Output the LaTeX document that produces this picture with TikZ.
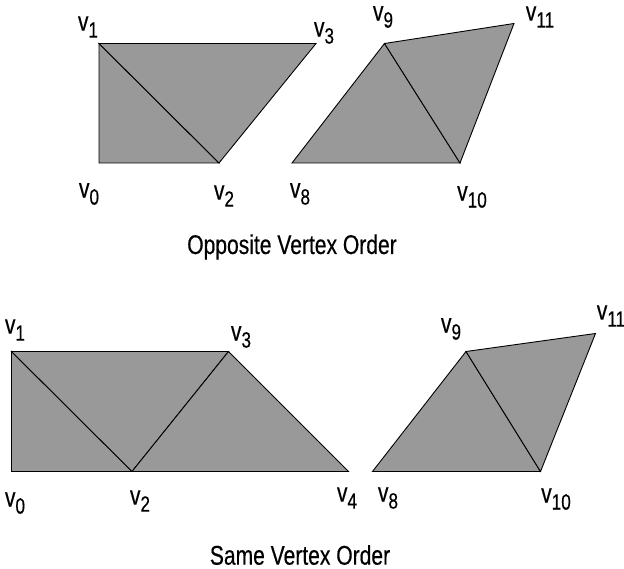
\documentclass[tikz,border=0pt]{standalone}
\usepackage{fontspec}
\setmainfont{Liberation Sans}[FakeStretch=0.78, FakeBold=0.4]
\usepackage{tikz}

\newcommand\vlab[1]{v\raisebox{-0.26em}{\fontsize{22}{22}\selectfont #1}}

\begin{document}
\begin{tikzpicture}[x=1pt,y=-1pt,
    face/.style={fill=black!40, draw=black, line width=0.9pt, line join=miter},
    vname/.style={font=\fontsize{27}{27}\selectfont, inner sep=0pt},
    caption/.style={font=\fontsize{27}{27}\selectfont, inner sep=0pt}]
    \useasboundingbox (0,0) rectangle (624,569);

    % opposite vertex order
    \coordinate (a0) at (99,163);
    \coordinate (a1) at (99,43.5);
    \coordinate (a2) at (219,163);
    \coordinate (a3) at (316,43.5);
    \coordinate (a8) at (292,163);
    \coordinate (a9) at (384.5,43.5);
    \coordinate (a10) at (460,163);
    \coordinate (a11) at (514,23.5);

    \filldraw[face] (a0) -- (a1) -- (a2) -- cycle;
    \filldraw[face] (a1) -- (a3) -- (a2) -- cycle;
    \filldraw[face] (a8) -- (a9) -- (a10) -- cycle;
    \filldraw[face] (a9) -- (a11) -- (a10) -- cycle;

    \node[vname] (la1) at (88,27) {\vlab{1}};
    \node[vname] (la3) at (324,33) {\vlab{3}};
    \node[vname] (la0) at (89,194) {\vlab{0}};
    \node[vname] (la2) at (224,196) {\vlab{2}};
    \node[vname] (la8) at (300,194) {\vlab{8}};
    \node[vname] (la9) at (383,17) {\vlab{9}};
    \node[vname] (la11) at (540,17) {\vlab{11}};
    \node[vname] (la10) at (472,197) {\vlab{10}};

    \node[caption] (top) at (292,247) {Opposite Vertex Order};

    % same vertex order
    \coordinate (b0) at (11.5,471.5);
    \coordinate (b1) at (11.5,351.5);
    \coordinate (b2) at (132,471.5);
    \coordinate (b3) at (228.5,351.5);
    \coordinate (b4) at (348.5,471.5);
    \coordinate (b8) at (372.5,471.5);
    \coordinate (b9) at (466,351.5);
    \coordinate (b10) at (540.5,471.5);
    \coordinate (b11) at (595.5,333.5);

    \filldraw[face] (b0) -- (b1) -- (b2) -- cycle;
    \filldraw[face] (b1) -- (b3) -- (b2) -- cycle;
    \filldraw[face] (b2) -- (b3) -- (b4) -- cycle;
    \filldraw[face] (b8) -- (b9) -- (b10) -- cycle;
    \filldraw[face] (b9) -- (b11) -- (b10) -- cycle;

    \node[vname] (lb1) at (15,330) {\vlab{1}};
    \node[vname] (lb3) at (241,337) {\vlab{3}};
    \node[vname] (lb0) at (15,503) {\vlab{0}};
    \node[vname] (lb2) at (140,501) {\vlab{2}};
    \node[vname] (lb4) at (347,498) {\vlab{4}};
    \node[vname] (lb8) at (388,498) {\vlab{8}};
    \node[vname] (lb9) at (451,329) {\vlab{9}};
    \node[vname] (lb11) at (611,316) {\vlab{11}};
    \node[vname] (lb10) at (556,499) {\vlab{10}};

    \node[caption] (bottom) at (300,555) {Same Vertex Order};
\end{tikzpicture}
\end{document}
